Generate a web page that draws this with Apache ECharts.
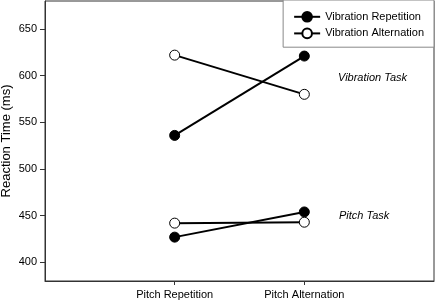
<!DOCTYPE html>
<html>
<head>
<meta charset="utf-8">
<script src="https://cdn.jsdelivr.net/npm/echarts@6/dist/echarts.min.js"></script>
<style>html,body{margin:0;padding:0;background:#fff}#c{width:435px;height:301px}</style>
</head>
<body>
<div id="c"></div>
<script>
var categories = ['Pitch Repetition', 'Pitch Alternation'];
var vibTaskVibRep = [536, 621];
var vibTaskVibAlt = [622, 580];
var pitchTaskVibRep = [427, 454];
var pitchTaskVibAlt = [442, 443];
var yTicks = [400, 450, 500, 550, 600, 650];
var taskLabels = ['Vibration Task', 'Pitch Task'];

function pts(vals){ return vals.map(function(v,i){ return [i, v]; }); }
var FONT = 'Liberation Sans, Arial, sans-serif';
var filled = {type:'line', name:'Vibration Repetition', symbol:'circle', symbolSize:10,
  lineStyle:{color:'#000', width:2}, itemStyle:{color:'#000', borderColor:'#000', borderWidth:1}};
var open = {type:'line', name:'Vibration Alternation', symbol:'circle', symbolSize:10,
  lineStyle:{color:'#000', width:2}, itemStyle:{color:'#fff', borderColor:'#000', borderWidth:1}};
function mk(base, vals){ var s = Object.assign({}, base); s.data = pts(vals); s.animation=false; s.z = base.name==='Vibration Alternation'?3:2; return s; }

var chart = echarts.init(document.getElementById('c'), null, {renderer:'canvas'});
chart.setOption({
  animation:false,
  textStyle:{fontFamily:FONT},
  grid:{left:45, top:1, right:1, bottom:20, show:true, borderColor:'#333', borderWidth:1, backgroundColor:'transparent', containLabel:false, outerBoundsMode:'none'},
  legend:{
    right:1, top:0, orient:'vertical', itemWidth:26, itemHeight:12, itemGap:5,
    padding:[11,10,8,10], borderColor:'#888', borderWidth:1, backgroundColor:'#fff',
    textStyle:{fontFamily:FONT, fontSize:11, color:'#000'},
    data:['Vibration Repetition','Vibration Alternation']
  },
  xAxis:{type:'value', min:-1, max:2,
    axisLine:{show:true, onZero:false, lineStyle:{color:'#333'}},
    axisTick:{show:true, length:4, customValues:[0,1], lineStyle:{color:'#333'}},
    axisLabel:{customValues:[0,1], formatter:function(v){return categories[v];}, fontSize:11, color:'#000', fontFamily:FONT, margin:8},
    splitLine:{show:false}},
  yAxis:{type:'value', min:380, max:680,
    name:'Reaction Time (ms)', nameLocation:'middle', nameGap:32, nameMoveOverlap:false,
    nameTextStyle:{fontSize:13, color:'#000', fontFamily:FONT},
    axisLine:{show:true, onZero:false, lineStyle:{color:'#333'}},
    axisTick:{show:true, length:5, customValues:yTicks, lineStyle:{color:'#333'}},
    axisLabel:{customValues:yTicks, fontSize:11, color:'#000', fontFamily:FONT, margin:8},
    splitLine:{show:false}},
  graphic:[
    {type:'text', left:338, top:72, style:{text:taskLabels[0], font:'italic 11px '+FONT, fill:'#000'}},
    {type:'text', left:339, top:210, style:{text:taskLabels[1], font:'italic 11px '+FONT, fill:'#000'}}
  ],
  series:[mk(filled, vibTaskVibRep), mk(open, vibTaskVibAlt), mk(filled, pitchTaskVibRep), mk(open, pitchTaskVibAlt)]
});
</script>
</body>
</html>
